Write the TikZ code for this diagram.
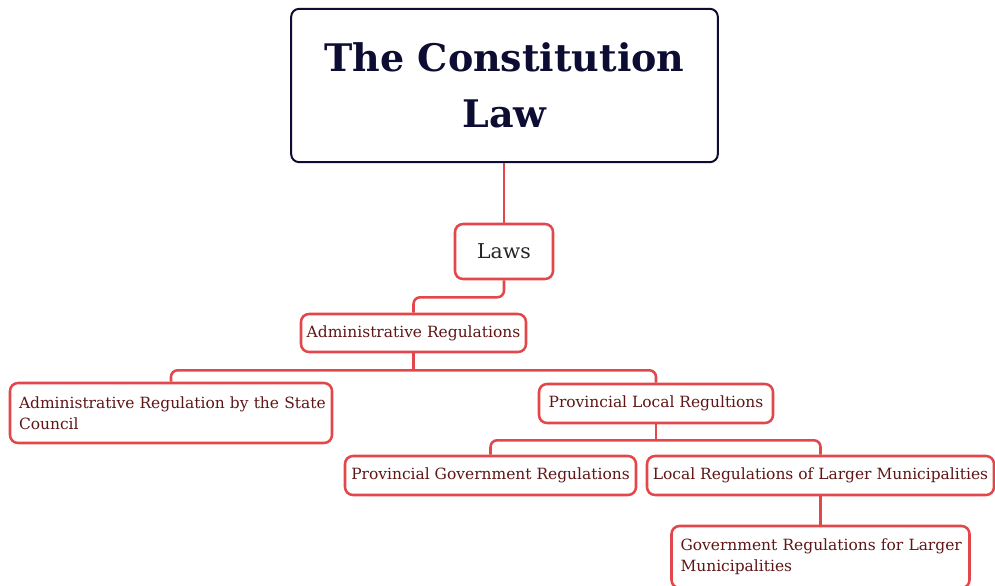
\documentclass[tikz,border=0pt]{standalone}
\usepackage{fontspec}
\setmainfont{DejaVu Serif}
\definecolor{boxred}{HTML}{E2474B}
\definecolor{txtred}{HTML}{5E1616}
\definecolor{navy}{HTML}{0D0D33}
\tikzset{
  topic/.style={draw=navy, line width=1.5pt, rounded corners=6pt, text=navy,
    font=\bfseries\fontsize{28.5}{42}\selectfont, align=center,
    minimum width=320pt, minimum height=115pt},
  sub/.style={draw=boxred, line width=1.9pt, rounded corners=6pt, fill=white,
    text=txtred, font=\fontsize{11.6}{15.75}\selectfont, inner sep=0pt},
  subtwo/.style={sub, align=left, inner xsep=6.75pt, inner ysep=0pt},
  link/.style={draw=boxred, line width=1.9pt, rounded corners=5pt},
}
\begin{document}
\begin{tikzpicture}[x=0.75pt, y=-0.75pt]
  \useasboundingbox (0,0) rectangle (995,585);
  % top of the tree
  \node[topic] (law) at (504.5,85.5) {The Constitution\\Law};
  \node[sub, text=black!85, font=\fontsize{15.3}{18}\selectfont,
    minimum width=73.5pt, minimum height=41.25pt] (laws) at (504,251.5) {Laws};
  \node[sub, minimum width=168.75pt, minimum height=28.5pt] (admin) at (413.5,333) {Administrative Regulations};
  % second level
  \node[subtwo, text width=228pt, minimum height=45pt] (state) at (171,413)
    {\mbox{Administrative Regulation by the State}\\Council};
  \node[sub, minimum width=175.5pt, minimum height=29.25pt] (prov) at (656,403.5) {Provincial Local Regultions};
  % third level
  \node[sub, minimum width=218.25pt, minimum height=29.25pt] (pgov) at (490.5,475.5) {Provincial Government Regulations};
  \node[sub, minimum width=260.25pt, minimum height=29.25pt] (local) at (820.5,475.5) {Local Regulations of Larger Municipalities};
  \node[subtwo, text width=210pt, minimum height=46.5pt] (larger) at (820.5,557)
    {\mbox{Government Regulations for Larger}\\Municipalities};
  % connectors
  \draw[link] (law.south -| laws.north) -- (laws.north);
  \draw[link] (laws.south) -- ++(0,17) -| (admin.north);
  \draw[link] (admin.south) -- ++(0,17) coordinate (abus);
  \draw[link] (state.north) |- (abus) -| (prov.north);
  \draw[link] (prov.south) -- ++(0,16) coordinate (pbus);
  \draw[link] (pgov.north) |- (pbus) -| (local.north);
  \draw[link] (local.south) -- (larger.north);
\end{tikzpicture}
\end{document}
